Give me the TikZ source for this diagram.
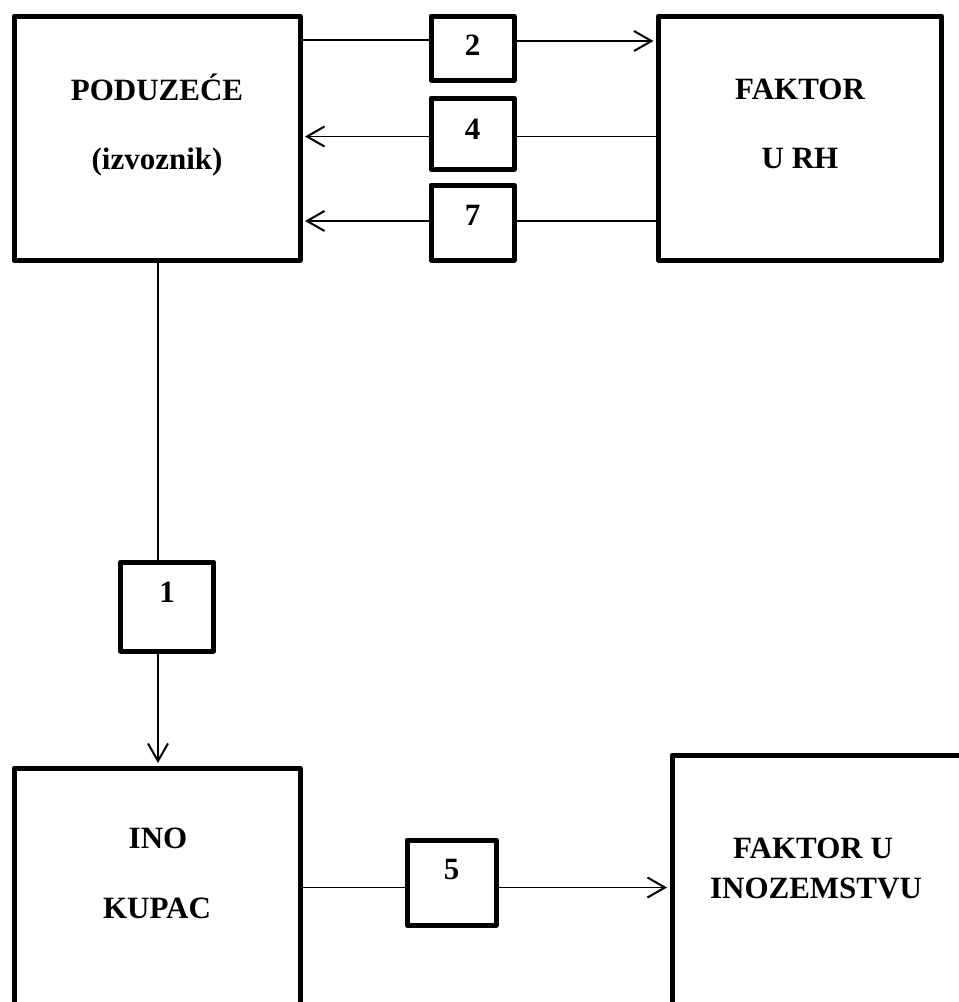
\documentclass[tikz,border=0pt]{standalone}
\usepackage{fontspec}
\setmainfont{Liberation Serif}
\usetikzlibrary{arrows.meta}
\newcommand\blockfont{\fontsize{31}{37}\selectfont\bfseries}
\begin{document}
\begin{tikzpicture}[x=1pt,y=-1pt]
\tikzset{base/.style={draw,line width=5pt,inner sep=0pt,line join=round},
blk/.style={base,minimum width=286pt,minimum height=244pt},
num/.style={base,font=\blockfont,minimum width=83pt},
txt/.style={font=\blockfont,anchor=base,inner sep=0pt},
link/.style={line width=1.6pt},
every path/.style={>={Straight Barb[length=17.5pt,width=20pt,line width=2pt]}}}
\useasboundingbox (0,0) rectangle (959,1002);
\clip (0,0) rectangle (959,1002);
% blocks
\node[blk] (pod) at (157,138) {};
\node[blk,minimum width=283pt] (fak) at (800,138) {};
\node[blk,minimum height=332pt] (ino) at (157,934) {};
\node[blk,minimum width=428pt,minimum height=345pt] (fio) at (886,927.5) {};
\node[txt] at (157,100) {PODUZEĆE};
\node[txt] at (157,169) {(izvoznik)};
\node[txt] at (800,99) {FAKTOR};
\node[txt] at (800,168) {U RH};
\node[txt] at (158,848) {INO};
\node[txt] at (157,918) {KUPAC};
\node[txt] at (813,858) {FAKTOR U};
\node[txt] at (816,898) {INOZEMSTVU};
% steps
\node[num,minimum height=64pt,text depth=5pt] (b2) at (472.5,48) {2};
\node[num,minimum height=71pt,text depth=8pt] (b4) at (472.5,133.5) {4};
\node[num,minimum height=75pt,text depth=14pt] (b7) at (472.5,222.5) {7};
\node[num,minimum width=93pt,minimum height=89pt,text depth=28pt] (b1) at (167,606.5) {1};
\node[num,minimum width=89pt,minimum height=85pt,text depth=26pt] (b5) at (451.5,882.5) {5};
% flows
\draw[link] ([yshift=8pt]b2.west -| pod.east) -- ([yshift=8pt]b2.west);
\draw[link,->,shorten >=2.5pt] ([yshift=7pt]b2.east) -- ([yshift=7pt]b2.east -| fak.west);
\draw[link] ([yshift=-3pt]b4.east -| fak.west) -- ([yshift=-3pt]b4.east);
\draw[link,->,shorten >=2.5pt] ([yshift=-3pt]b4.west) -- ([yshift=-3pt]b4.west -| pod.east);
\draw[link] ([yshift=1.5pt]b7.east -| fak.west) -- ([yshift=1.5pt]b7.east);
\draw[link,->,shorten >=2.5pt] ([yshift=1.5pt]b7.west) -- ([yshift=1.5pt]b7.west -| pod.east);
\draw[link] ([xshift=1pt]pod.south) -- ([xshift=1pt]pod.south |- b1.north);
\draw[link,->,shorten >=2.5pt] ([xshift=1pt]pod.south |- b1.south) -- ([xshift=1pt]pod.south |- ino.north);
\draw[link] ([yshift=-5pt]b5.west -| ino.east) -- ([yshift=-5pt]b5.west);
\draw[link,->,shorten >=2.5pt] ([yshift=-5pt]b5.east) -- ([yshift=-5pt]b5.east -| fio.west);
\end{tikzpicture}
\end{document}
